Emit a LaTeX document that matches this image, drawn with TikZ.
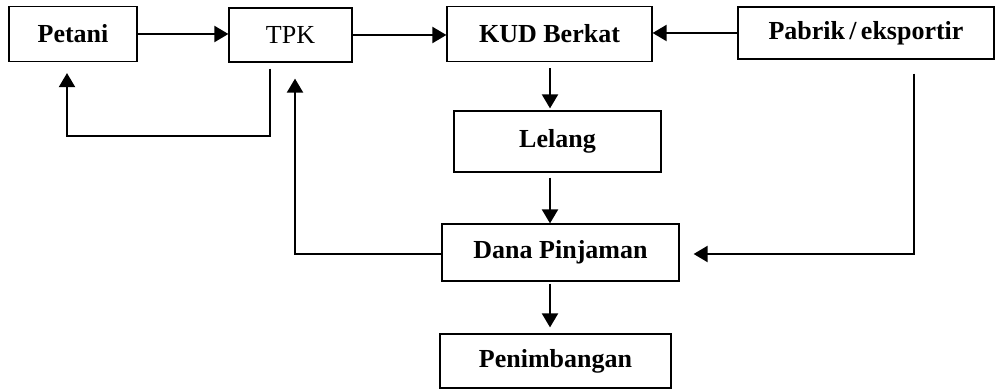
\documentclass[tikz,border=0pt]{standalone}
\usepackage{fontspec}
\setmainfont{Liberation Serif}
\usepackage{tikz}
\usetikzlibrary{arrows.meta}

\begin{document}
\begin{tikzpicture}[x=0.5pt,y=-0.5pt,
    box/.style={draw,line width=0.6pt,inner sep=0pt,font=\fontsize{13}{15}\selectfont\bfseries},
    arr/.style={line width=1pt,-{Triangle[width=8pt,length=7pt]}}]
        \useasboundingbox (0,0) rectangle (995,389);

        \node[box,minimum width=64pt,minimum height=27.5pt] (petani) at (73,34) {Petani};
        \node[box,minimum width=61.5pt,minimum height=27pt,font=\fontsize{13}{15}\selectfont] (tpk) at (290.5,35) {TPK};
        \node[box,minimum width=102.5pt,minimum height=27.5pt] (kud) at (549.5,34) {KUD Berkat};
        \node[box,minimum width=128pt,minimum height=26pt] (pabrik) at (866,33) {Pabrik\,/\,eksportir};
        \node[box,minimum width=103.5pt,minimum height=30.5pt] (lelang) at (557.5,141.5) {Lelang};
        \node[box,minimum width=118.5pt,minimum height=28.5pt] (dana) at (560.5,252.5) {Dana Pinjaman};
        \node[box,minimum width=115.5pt,minimum height=27pt] (timbang) at (555.5,361) {Penimbangan};

        \coordinate (c1) at (270,136);
        \coordinate (c2) at (67,136);
        \coordinate (c3) at (295,254);
        \coordinate (c4) at (914,254);
        \coordinate (c5) at (550,0);

        \draw[arr] (petani.east) -- (petani.east -| tpk.west);
        \draw[arr] (tpk.east) -- (tpk.east -| kud.west);
        \draw[arr] (pabrik.west) -- (pabrik.west -| kud.east);
        \draw[arr,shorten <=3pt,shorten >=1pt] (kud.south -| c5) -- (lelang.north -| c5);
        \draw[arr,shorten <=2.5pt] (lelang.south -| c5) -- (dana.north -| c5);
        \draw[arr,shorten <=1pt,shorten >=3pt] (dana.south -| c5) -- (timbang.north -| c5);
        \draw[arr,shorten <=3pt,shorten >=5.5pt] (tpk.south -| c1) -- (c1) -- (c2) -- (petani.south -| c2);
        \draw[arr,shorten >=8pt] (dana.west |- c3) -- (c3) -- (tpk.south -| c3);
        \draw[arr,shorten <=7pt,shorten >=7pt] (pabrik.south -| c4) -- (c4) -- (dana.east |- c4);
    \end{tikzpicture}
\end{document}
